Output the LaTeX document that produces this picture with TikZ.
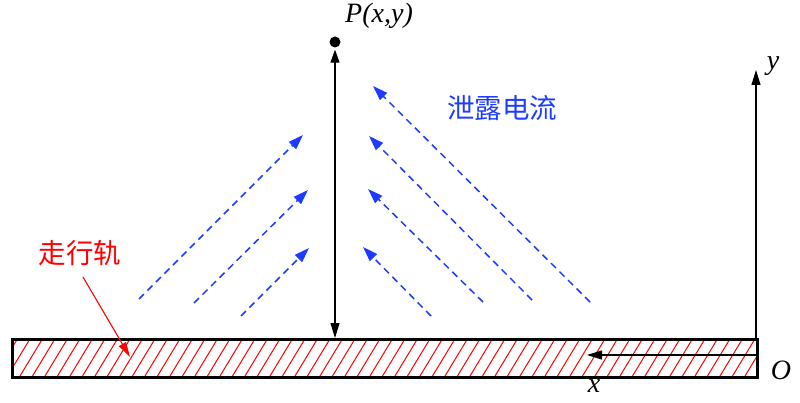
\documentclass[tikz,border=0pt]{standalone}
\usepackage{fontspec}
\setmainfont{Liberation Serif}
\newfontfamily\cjk{Noto Sans CJK SC}
\usetikzlibrary{arrows.meta}
\definecolor{leakblue}{RGB}{30,60,255}
\begin{document}
\begin{tikzpicture}[x=1pt,y=-1pt,
  leak/.style={leakblue, line width=1.5pt, dash pattern=on 7pt off 5pt, -{Triangle[length=15pt,width=10pt]}},
  axisline/.style={black, line width=1.1pt, -{Triangle[length=15pt,width=9pt]}},
  lbl/.style={font=\fontsize{28}{32}\selectfont\itshape, inner sep=0pt},
  cjklbl/.style={font=\fontsize{27.5}{32}\selectfont\cjk, inner sep=0pt},
  hatch/.style={red, line width=1pt}
]
\useasboundingbox (0,0) rectangle (800,403);
% hatching of the rail
\begin{scope}
  \clip (11,338) rectangle (756,376);
  \foreach \a in {-30,-17.5,...,770} \draw[hatch] (\a,376) -- ({\a+23},338);
\end{scope}
\node[draw, line width=2.5pt, minimum width=745pt, minimum height=38pt, inner sep=0pt, anchor=north west] (rail) at (11,338) {};
% axes
\coordinate (corner) at (756,338);
\coordinate (ytip) at (756,70);
\draw[axisline] (corner) -- (ytip);
\coordinate (xstart) at (756,355);
\coordinate (xtip) at (587,355);
\draw[axisline] (xstart) -- (xtip);
\node[lbl] (ylab) at (773,66) {y};
\node[lbl] (xlab) at (594,386) {x};
\node[lbl] (olab) at (781,370) {O};
% point P
\node[circle, fill=black, inner sep=0pt, minimum size=11pt] (P) at (335,42) {};
\node[lbl, anchor=west] (plab) at (345,16) {P(x,y)};
\coordinate (foot) at (335,338);
\draw[black, line width=1.1pt, {Triangle[length=13pt,width=9pt]}-{Triangle[length=15pt,width=9pt]}] (P.south) ++(0,2) coordinate (ptop) (ptop) -- (foot);
% leakage current arrows (left)
\coordinate (l1a) at (139,299); \coordinate (l1b) at (303,135);
\coordinate (l2a) at (194,303); \coordinate (l2b) at (308,190);
\coordinate (l3a) at (241,316); \coordinate (l3b) at (309,248);
\draw[leak] (l1a) -- (l1b);
\draw[leak] (l2a) -- (l2b);
\draw[leak] (l3a) -- (l3b);
% leakage current arrows (right)
\coordinate (r1a) at (590,302); \coordinate (r1b) at (373,86);
\coordinate (r2a) at (532,300); \coordinate (r2b) at (369,136);
\coordinate (r3a) at (483,302); \coordinate (r3b) at (368,189);
\coordinate (r4a) at (431,316); \coordinate (r4b) at (363,247);
\draw[leak] (r1a) -- (r1b);
\draw[leak] (r2a) -- (r2b);
\draw[leak] (r3a) -- (r3b);
\draw[leak] (r4a) -- (r4b);
\node[cjklbl, leakblue] (leaklab) at (502,108) {泄露电流};
% rail label
\node[cjklbl, red] (raillab) at (80,253) {走行轨};
\coordinate (railpt) at (130,357);
\draw[red, line width=1.1pt, -{Triangle[length=15pt,width=8pt]}] (83,277) -- (railpt);
\end{tikzpicture}
\end{document}
